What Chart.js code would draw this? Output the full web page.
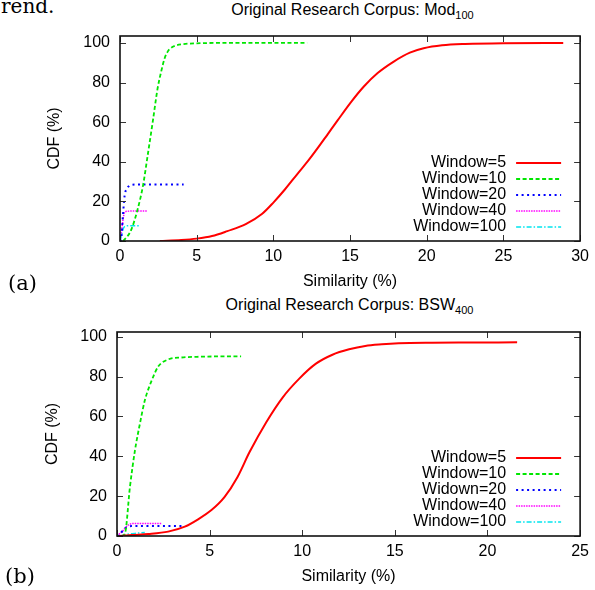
<!DOCTYPE html>
<html>
<head>
<meta charset="utf-8">
<script src="https://cdn.jsdelivr.net/npm/chart.js@4.4.1/dist/chart.umd.min.js"></script>
<style>
  body { margin: 0; background: #fff; }
  #page { position: relative; width: 595px; height: 590px; overflow: hidden; }
  canvas { position: absolute; left: 0; }
  .serif { position: absolute; font-family: "DejaVu Serif", serif; font-size: 20px; line-height: 20px; color: #000; white-space: nowrap; }
  .title { position: absolute; font-family: "Liberation Sans", Arial, sans-serif; font-size: 16px; line-height: 16px; color: #000; text-align: center; white-space: nowrap; }
  .title sub { font-size: 11px; line-height: 0; vertical-align: -4px; }
</style>
</head>
<body>
<div id="page">
  <div class="serif" style="left:1px; top:-4px;">rend.</div>
  <div class="title" style="left:120px; width:465px; top:2px;">Original Research Corpus: Mod<sub>100</sub></div>
  <canvas id="chartA" width="595" height="295" style="top:0;"></canvas>
  <div class="serif" style="left:8px; top:273px; font-size:21px;">(a)</div>
  <div class="title" style="left:117px; width:465px; top:297px;">Original Research Corpus: BSW<sub>400</sub></div>
  <canvas id="chartB" width="595" height="295" style="top:295px;"></canvas>
  <div class="serif" style="left:5px; top:566px; font-size:21px;">(b)</div>
</div>
<script>
// series labels
const labelsA = ['Window=5', 'Window=10', 'Window=20', 'Window=40', 'Window=100'];
const labelsB = ['Window=5', 'Window=10', 'Widown=20', 'Window=40', 'Window=100'];

// axis ticks
const xTicksA = [0, 5, 10, 15, 20, 25, 30];
const xTicksB = [0, 5, 10, 15, 20, 25];
const yTicks = [0, 20, 40, 60, 80, 100];

// (a) Mod100 - similarity (%) vs CDF (%)
const modW5x   = [2.6, 4, 5, 6, 7, 8.2, 9.25, 10, 10.75, 11.6, 12.26, 12.9, 13.55, 14.2, 15.05, 15.9, 16.8, 17.85, 18.9, 19.8, 21, 22.5, 25, 28.9];
const modW5y   = [0, 0.5, 1.2, 2.5, 5, 8.5, 13.6, 19.4, 26, 34.2, 40.4, 47, 54, 61, 70, 78, 84.8, 90.6, 95.1, 97.3, 98.8, 99.5, 99.9, 100];
const modW10x  = [0.2, 0.5, 0.75, 1.15, 1.5, 1.8, 2.15, 2.45, 2.7, 2.9, 3.1, 3.3, 3.6, 4, 5, 7, 12.2];
const modW10y  = [0, 2.5, 6, 16, 28, 43, 61, 77, 86, 92, 95.5, 97.3, 98.6, 99.3, 99.8, 100, 100];
const modW20x  = [0, 0.08, 0.19, 0.3, 0.45, 0.6, 0.75, 1.2, 4.15];
const modW20y  = [0, 1, 12.7, 22.8, 26.5, 27.8, 28.3, 28.5, 28.5];
const modW40x  = [0, 0.1, 0.2, 0.3, 0.5, 0.8, 1.8];
const modW40y  = [0, 5, 11, 14.5, 15, 15.2, 15.2];
const modW100x = [0, 0.1, 0.2, 0.35, 0.6, 1.25];
const modW100y = [0, 3, 6, 7.5, 7.7, 7.7];

// (b) BSW400
const bswW5x   = [0.1, 0.8, 1.7, 2.76, 3.66, 4.4, 5.1, 5.8, 6.5, 7.15, 8.05, 8.94, 9.84, 10.74, 11.63, 12.53, 13.4, 14.3, 15.2, 17, 19, 21.6];
const bswW5y   = [0, 0.5, 1, 2.2, 4.7, 8.5, 13, 19.5, 29.5, 42, 57, 69.5, 79, 86.5, 91, 93.7, 95.4, 96.2, 96.7, 97, 97.1, 97.2];
const bswW10x  = [0.25, 0.43, 0.7, 0.97, 1.24, 1.5, 1.87, 2.22, 2.76, 3.48, 4.5, 6.7];
const bswW10y  = [0, 1.3, 24.7, 43, 56.5, 68, 78, 85, 88.6, 89.6, 90, 90.2];
const bswW20x  = [0, 0.2, 0.43, 0.79, 1.2, 3.5];
const bswW20y  = [0, 1.5, 3.8, 5, 5, 5];
const bswW40x  = [0, 0.3, 0.6, 0.97, 1.5, 2.4];
const bswW40y  = [0, 2.5, 5.5, 6.3, 6.3, 6.3];
const bswW100x = [0.2, 0.5, 0.97, 1.5];
const bswW100y = [0, 0.8, 1.3, 1.8];

// gnuplot-like line styles
const styles = [
  { color: '#ff0000', width: 2,   dash: [] },
  { color: '#00e600', width: 1.8, dash: [4, 2.5] },
  { color: '#0000ff', width: 2,   dash: [2, 3.5] },
  { color: '#ff00ff', width: 1.5, dash: [1.5, 1] },
  { color: '#00e5ee', width: 1.5, dash: [5, 2, 1.5, 2] }
];

const FONT = '"Liberation Sans", Arial, sans-serif';

function pts(xs, ys) {
  return xs.map((x, i) => ({ x: x, y: ys[i] }));
}

// legend drawn inside the plot, bottom right
const insideLegend = {
  id: 'insideLegend',
  afterDraw(chart) {
    const { ctx, chartArea } = chart;
    const dsets = chart.data.datasets;
    const x1 = chartArea.right - 19, x0 = x1 - 45;
    ctx.save();
    ctx.font = '16px ' + FONT;
    ctx.textAlign = 'right';
    ctx.textBaseline = 'middle';
    dsets.forEach((ds, i) => {
      const y = chartArea.bottom - 14 - (dsets.length - 1 - i) * 16;
      ctx.fillStyle = '#000';
      ctx.fillText(ds.label, x0 - 10, y);
      ctx.strokeStyle = ds.borderColor;
      ctx.lineWidth = ds.borderWidth;
      ctx.setLineDash(ds.borderDash);
      ctx.beginPath();
      ctx.moveTo(x0, y);
      ctx.lineTo(x1, y);
      ctx.stroke();
    });
    ctx.restore();
  }
};

// frame with inward ticks on all four sides
const frame = {
  id: 'frame',
  afterDraw(chart) {
    const { ctx, chartArea: a, scales } = chart;
    const len = 6;
    ctx.save();
    ctx.strokeStyle = '#333';
    ctx.lineWidth = 1;
    ctx.beginPath();
    scales.x.ticks.forEach(t => {
      const px = Math.round(scales.x.getPixelForValue(t.value)) + 0.5;
      ctx.moveTo(px, a.bottom); ctx.lineTo(px, a.bottom - len);
      ctx.moveTo(px, a.top); ctx.lineTo(px, a.top + len);
    });
    scales.y.ticks.forEach(t => {
      const py = Math.round(scales.y.getPixelForValue(t.value)) + 0.5;
      ctx.moveTo(a.left, py); ctx.lineTo(a.left + len, py);
      ctx.moveTo(a.right, py); ctx.lineTo(a.right - len, py);
    });
    ctx.stroke();
    ctx.strokeStyle = '#111';
    ctx.lineWidth = 1.6;
    ctx.strokeRect(a.left, a.top, a.right - a.left, a.bottom - a.top);
    ctx.restore();
  }
};

function makeChart(id, labels, series, xTicks, xMax, yMax, pad, yWidth) {
  const datasets = series.map((s, i) => ({
    label: labels[i],
    data: pts(s[0], s[1]),
    borderColor: styles[i].color,
    borderWidth: styles[i].width,
    borderDash: styles[i].dash,
    pointRadius: 0,
    fill: false,
    cubicInterpolationMode: 'monotone'
  }));
  return new Chart(document.getElementById(id), {
    type: 'line',
    data: { datasets: datasets },
    options: {
      responsive: false,
      animation: false,
      layout: { padding: pad },
      plugins: { legend: { display: false }, tooltip: { enabled: false } },
      scales: {
        x: {
          type: 'linear', min: 0, max: xMax,
          afterBuildTicks: s => { s.ticks = xTicks.map(v => ({ value: v })); },
          afterFit: s => { s.height = 54; },
          grid: { display: false, drawTicks: false },
          border: { display: false },
          ticks: { color: '#000', padding: 6, maxRotation: 0, autoSkip: false, font: { family: FONT, size: 16 } },
          title: { display: true, text: 'Similarity (%)', color: '#000', font: { family: FONT, size: 16 } }
        },
        y: {
          type: 'linear', min: 0, max: yMax,
          afterBuildTicks: s => { s.ticks = yTicks.map(v => ({ value: v })); },
          afterFit: s => { s.width = yWidth; },
          grid: { display: false, drawTicks: false },
          border: { display: false },
          ticks: { color: '#000', padding: 10, autoSkip: false, font: { family: FONT, size: 16 } },
          title: { display: true, text: 'CDF (%)', color: '#000', font: { family: FONT, size: 16 } }
        }
      }
    },
    plugins: [frame, insideLegend]
  });
}

makeChart('chartA', labelsA,
  [[modW5x, modW5y], [modW10x, modW10y], [modW20x, modW20y], [modW40x, modW40y], [modW100x, modW100y]],
  xTicksA, 30, 103.5, { left: 41, top: 36, right: 10, bottom: 0 }, 79);

makeChart('chartB', labelsB,
  [[bswW5x, bswW5y], [bswW10x, bswW10y], [bswW20x, bswW20y], [bswW40x, bswW40y], [bswW100x, bswW100y]],
  xTicksB, 25, 102.4, { left: 39, top: 37, right: 13, bottom: 0 }, 78);
</script>
</body>
</html>
